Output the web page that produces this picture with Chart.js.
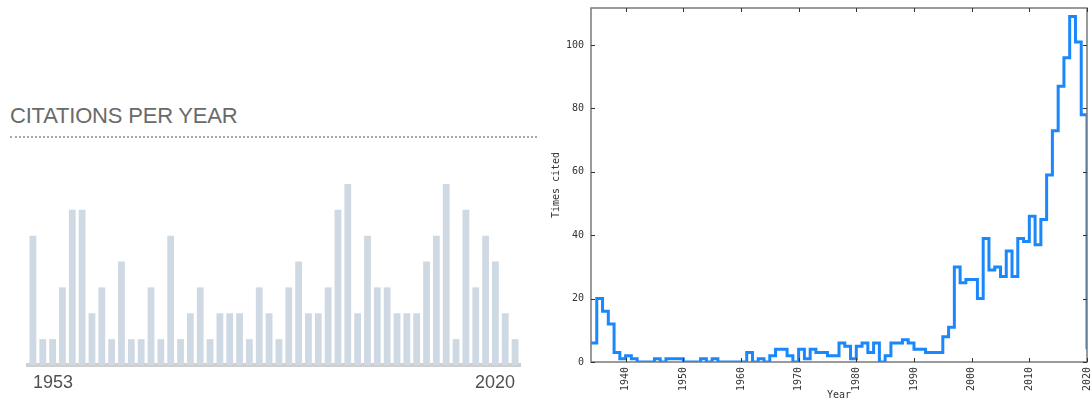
<!DOCTYPE html>
<html>
<head>
<meta charset="utf-8">
<script src="https://cdn.jsdelivr.net/npm/chart.js@4.4.1/dist/chart.umd.min.js"></script>
<style>
  html, body { margin: 0; padding: 0; background: #fff; }
  #page { position: relative; width: 1092px; height: 401px; overflow: hidden; }
  #sparkTitle {
    position: absolute; left: 10px; top: 105px;
    font: 22px/22px "Liberation Sans", Arial, sans-serif;
    letter-spacing: -0.2px; color: #6a6a6a; white-space: nowrap;
  }
  #sparkRule {
    position: absolute; left: 10px; top: 136px; width: 527px; height: 0;
    border-top: 2px dotted #a8a8a8;
  }
  #sparkChart { position: absolute; left: 0; top: 150px; }
  #citeChart { position: absolute; left: 540px; top: 0; }
</style>
</head>
<body>
<div id="page">
  <div id="sparkTitle">CITATIONS PER YEAR</div>
  <div id="sparkRule"></div>
  <canvas id="sparkChart" width="540" height="251"></canvas>
  <canvas id="citeChart" width="552" height="401"></canvas>
</div>
<script>
// left panel: small bar strip, only the end years are labelled
const sparkTicks = ['1953', '2020'];
const sparkValues = [5, 1, 1, 3, 6, 6, 2, 3, 1, 4, 1, 1, 3, 1, 5, 1, 2, 3, 1, 2,
                     2, 2, 1, 3, 2, 1, 3, 4, 2, 2, 3, 6, 7, 2, 5, 3, 3, 2, 2, 2,
                     4, 5, 7, 1, 6, 3, 5, 4, 2, 1];

// right panel: times cited per year (step plot)
const citeYears = [1934, 1935, 1936, 1937, 1938, 1939, 1940, 1941, 1942, 1943,
                   1944, 1945, 1946, 1947, 1948, 1949, 1950, 1951, 1952, 1953,
                   1954, 1955, 1956, 1957, 1958, 1959, 1960, 1961, 1962, 1963,
                   1964, 1965, 1966, 1967, 1968, 1969, 1970, 1971, 1972, 1973,
                   1974, 1975, 1976, 1977, 1978, 1979, 1980, 1981, 1982, 1983,
                   1984, 1985, 1986, 1987, 1988, 1989, 1990, 1991, 1992, 1993,
                   1994, 1995, 1996, 1997, 1998, 1999, 2000, 2001, 2002, 2003,
                   2004, 2005, 2006, 2007, 2008, 2009, 2010, 2011, 2012, 2013,
                   2014, 2015, 2016, 2017, 2018, 2019, 2020];
const citeCounts = [6, 20, 16, 12, 3, 1, 2, 1, 0, 0,
                    0, 1, 0, 1, 1, 1, 0, 0, 0, 1,
                    0, 1, 0, 0, 0, 0, 0, 3, 0, 1,
                    0, 2, 4, 4, 2, 0, 4, 1, 4, 3,
                    3, 2, 2, 6, 5, 1, 5, 6, 3, 6,
                    0, 2, 6, 6, 7, 6, 4, 4, 3, 3,
                    3, 8, 11, 30, 25, 26, 26, 20, 39, 29,
                    30, 27, 35, 27, 39, 38, 46, 37, 45, 59,
                    73, 87, 96, 109, 101, 78, 4];
const citeXTicks = [1940, 1950, 1960, 1970, 1980, 1990, 2000, 2010, 2020];
const citeYTicks = [0, 20, 40, 60, 80, 100];

const monoFont = { family: '"DejaVu Sans Mono", monospace', size: 10 };

new Chart(document.getElementById('sparkChart'), {
    type: 'bar',
    data: {
        labels: sparkValues.map((v, i) => i),
        datasets: [{
            data: sparkValues,
            backgroundColor: '#cfd9e3',
            categoryPercentage: 1,
            barPercentage: 0.69
        }]
    },
    options: {
        responsive: false,
        animation: false,
        devicePixelRatio: 1,
        layout: { padding: { left: 28, right: 20, top: 8, bottom: 0 } },
        plugins: { legend: { display: false }, tooltip: { enabled: false } },
        scales: {
            x: {
                grid: { display: false, drawTicks: false },
                border: { color: '#cfcfcf', width: 4 },
                ticks: {
                    autoSkip: false, maxRotation: 0, align: 'inner', padding: 7,
                    color: '#505050', font: { family: '"Liberation Sans", Arial, sans-serif', size: 18 },
                    callback: (v, i) => i === 0 ? sparkTicks[0] : (i === sparkValues.length - 1 ? sparkTicks[1] : '')
                },
                afterFit: (s) => { s.height = 36; s.paddingLeft = 0; s.paddingRight = 0; }
            },
            y: { display: false, min: 0, max: 8 }
        }
    }
});

// gnuplot style frame with inward ticks
const frameTicks = {
    id: 'frameTicks',
    afterDraw(chart) {
        const { ctx, chartArea: a, scales: { x, y } } = chart;
        ctx.save();
        ctx.strokeStyle = '#7a7a7a';
        ctx.lineWidth = 1.5;
        ctx.strokeRect(a.left, a.top, a.right - a.left, a.bottom - a.top);
        ctx.strokeStyle = '#333';
        ctx.lineWidth = 1;
        ctx.beginPath();
        x.ticks.forEach(t => {
            const px = Math.round(x.getPixelForValue(t.value)) + 0.5;
            ctx.moveTo(px, a.bottom); ctx.lineTo(px, a.bottom - 4);
            ctx.moveTo(px, a.top); ctx.lineTo(px, a.top + 4);
        });
        y.ticks.forEach(t => {
            const py = Math.round(y.getPixelForValue(t.value)) + 0.5;
            ctx.moveTo(a.left, py); ctx.lineTo(a.left + 4, py);
            ctx.moveTo(a.right, py); ctx.lineTo(a.right - 4, py);
        });
        ctx.stroke();
        ctx.restore();
    }
};

new Chart(document.getElementById('citeChart'), {
    type: 'line',
    data: {
        datasets: [{
            data: citeYears.map((yr, i) => ({ x: yr, y: citeCounts[i] })),
            borderColor: '#1a88fc',
            borderWidth: 3,
            stepped: true,
            pointRadius: 0,
            fill: false
        }]
    },
    options: {
        responsive: false,
        animation: false,
        devicePixelRatio: 1,
        layout: { padding: { left: 0, right: 5, top: 8, bottom: 0 } },
        plugins: { legend: { display: false }, tooltip: { enabled: false } },
        scales: {
            x: {
                type: 'linear', min: 1934, max: 2020,
                grid: { display: false, drawTicks: false },
                border: { display: false },
                afterBuildTicks: (s) => { s.ticks = citeXTicks.map(v => ({ value: v })); },
                ticks: {
                    minRotation: 90, maxRotation: 90, padding: 5, autoSkip: false,
                    color: '#333', font: monoFont,
                    callback: (v) => String(v)
                },
                title: { display: true, text: 'Year', color: '#333', font: monoFont, padding: { top: 0, bottom: 0 } },
                afterFit: (s) => { s.height = 39; s.paddingLeft = 0; s.paddingRight = 0; }
            },
            y: {
                min: 0, max: 111.7,
                grid: { display: false, drawTicks: false },
                border: { display: false },
                afterBuildTicks: (s) => { s.ticks = citeYTicks.map(v => ({ value: v })); },
                ticks: { padding: 7, color: '#333', font: monoFont },
                title: { display: true, text: 'Times cited', color: '#333', font: monoFont, padding: { top: 10, bottom: 0 } },
                afterFit: (s) => { s.width = 51; s.paddingTop = 0; s.paddingBottom = 0; }
            }
        }
    },
    plugins: [frameTicks]
});
</script>
</body>
</html>
